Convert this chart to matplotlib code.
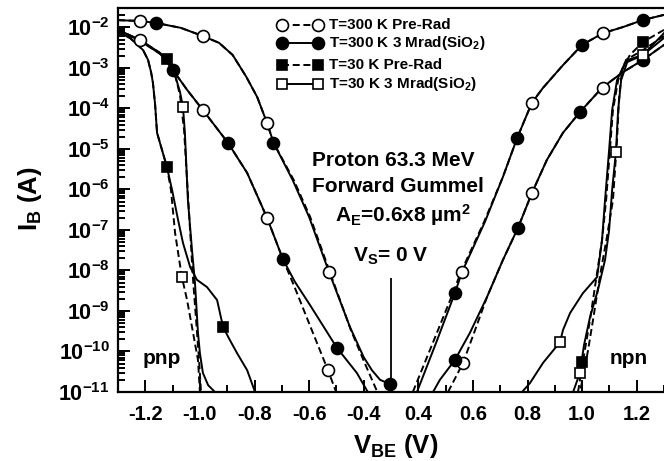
import numpy as np
import matplotlib
matplotlib.use('Agg')
import matplotlib.pyplot as plt
from matplotlib.lines import Line2D
from matplotlib.ticker import FixedLocator, LogLocator, NullFormatter

plt.rcParams['font.family'] = 'Liberation Sans'
plt.rcParams['font.weight'] = 'bold'
plt.rcParams['mathtext.fontset'] = 'custom'
plt.rcParams['mathtext.rm'] = 'Liberation Sans:bold'
plt.rcParams['mathtext.bf'] = 'Liberation Sans:bold'
plt.rcParams['mathtext.it'] = 'Liberation Sans:bold'
plt.rcParams['mathtext.default'] = 'bf'

# pnp (negative V_BE) and npn (positive V_BE) share one axis,
# the npn half is pulled left by 0.6 V so 0.3 V sits on top of -0.3 V
NPN_SHIFT = 0.6

# ---- T=300 K, upper branch (values are log10 of current in A) ----
pnp300_up_rad_v = [-1.30, -1.22, -1.16, -1.07, -0.99, -0.93, -0.88, -0.83, -0.79, -0.754,
                   -0.73, -0.66, -0.60, -0.527, -0.45, -0.40, -0.37, -0.34, -0.305]
pnp300_up_rad_i = [-1.82, -1.84, -1.89, -2.01, -2.21, -2.38, -2.68, -3.22, -3.72, -4.36,
                   -4.85, -5.77, -6.68, -8.04, -9.40, -10.14, -10.46, -10.70, -10.80]
pnp300_up_pre_v = [-1.30, -1.22, -1.16, -1.07, -0.99, -0.93, -0.88, -0.83, -0.79, -0.754,
                   -0.73, -0.656, -0.596, -0.524, -0.447, -0.398, -0.35]
pnp300_up_pre_i = [-1.82, -1.84, -1.89, -2.01, -2.21, -2.38, -2.68, -3.22, -3.72, -4.36,
                   -4.85, -5.77, -6.68, -8.04, -9.47, -10.26, -11.0]

npn300_up_rad_v = [0.395, 0.465, 0.534, 0.560, 0.644, 0.710, 0.762, 0.816, 0.857, 0.930,
                   1.000, 1.077, 1.150, 1.223, 1.300]
npn300_up_rad_i = [-11.0, -9.79, -8.56, -8.04, -6.80, -5.69, -4.73, -3.86, -3.49, -2.93,
                   -2.43, -2.14, -1.99, -1.815, -1.69]
npn300_up_pre_v = [0.380, 0.453, 0.527, 0.556, 0.641, 0.710, 0.762, 0.816, 0.857, 0.930,
                   1.000, 1.077, 1.150, 1.223, 1.300]
npn300_up_pre_i = [-11.0, -9.79, -8.56, -8.04, -6.80, -5.69, -4.73, -3.86, -3.49, -2.93,
                   -2.43, -2.14, -1.99, -1.815, -1.69]

# ---- T=300 K, lower branch ----
pnp300_lo_rad_v = [-1.30, -1.219, -1.146, -1.099, -1.047, -0.989, -0.897, -0.827, -0.754,
                   -0.696, -0.652, -0.597, -0.498, -0.425, -0.385]
pnp300_lo_rad_i = [-2.06, -2.31, -2.63, -3.05, -3.54, -4.04, -4.85, -5.59, -6.70,
                   -7.72, -8.28, -8.85, -9.91, -10.53, -11.0]
pnp300_lo_pre_v = [-1.30, -1.219, -1.146, -1.099, -1.047, -0.989, -0.897, -0.827, -0.754,
                   -0.696, -0.652, -0.586, -0.531, -0.501]
pnp300_lo_pre_i = [-2.06, -2.31, -2.63, -3.05, -3.54, -4.04, -4.85, -5.59, -6.70,
                   -7.72, -8.43, -9.54, -10.46, -11.0]

npn300_lo_rad_v = [0.454, 0.479, 0.534, 0.589, 0.652, 0.710, 0.765, 0.816, 0.871, 0.930,
                   0.992, 1.073, 1.146, 1.223, 1.300]
npn300_lo_rad_i = [-11.0, -10.70, -10.21, -9.54, -8.65, -7.74, -6.95, -6.09, -5.27, -4.60,
                   -4.09, -3.49, -3.12, -2.80, -2.43]
npn300_lo_pre_v = [0.509, 0.564, 0.608, 0.652, 0.710, 0.765, 0.816, 0.871, 0.930,
                   0.992, 1.073, 1.146, 1.223, 1.300]
npn300_lo_pre_i = [-11.0, -10.28, -9.47, -8.65, -7.74, -6.95, -6.09, -5.27, -4.60,
                   -4.09, -3.49, -3.12, -2.80, -2.43]

# ---- T=30 K ----
pnp30_a_rad_v = [-1.300, -1.256, -1.208, -1.190, -1.179, -1.172, -1.164, -1.157, -1.139,
                 -1.121, -1.102, -1.080, -1.062, -1.036, -1.011, -0.974, -0.937, -0.915,
                 -0.890, -0.864, -0.827, -0.798]
pnp30_a_rad_i = [-2.11, -2.26, -2.56, -2.80, -3.10, -3.37, -3.91, -4.60, -5.02,
                 -5.44, -6.01, -6.75, -7.32, -7.91, -8.23, -8.41, -8.73, -9.40,
                 -9.72, -10.04, -10.46, -11.0]
pnp30_a_pre_v = [-1.300, -1.256, -1.208, -1.190, -1.179, -1.172, -1.164, -1.157, -1.139,
                 -1.121, -1.106, -1.091, -1.073, -1.066, -1.047, -1.025, -1.007, -1.000]
pnp30_a_pre_i = [-2.11, -2.26, -2.56, -2.80, -3.10, -3.37, -3.91, -4.60, -5.02,
                 -5.44, -6.01, -7.07, -7.86, -8.16, -8.73, -9.54, -10.21, -11.0]
pnp30_b_rad_v = [-1.300, -1.219, -1.146, -1.110, -1.088, -1.073, -1.062, -1.055, -1.044,
                 -1.029, -1.018, -1.007, -1.000, -0.989, -0.970, -0.945]
pnp30_b_rad_i = [-2.06, -2.33, -2.65, -2.93, -3.25, -3.59, -3.96, -4.60, -6.26,
                 -7.49, -8.31, -9.54, -10.04, -10.53, -10.83, -11.0]
pnp30_b_pre_v = [-1.300, -1.219, -1.146, -1.117, -1.091, -1.073, -1.058, -1.047, -1.036,
                 -1.025, -1.014, -1.003, -0.996]
pnp30_b_pre_i = [-2.06, -2.33, -2.65, -2.80, -3.17, -3.67, -4.53, -5.77, -7.00,
                 -8.23, -9.22, -10.21, -11.0]

npn30_a_rad_v = [1.300, 1.223, 1.157, 1.128, 1.110, 1.099, 1.084, 1.073, 1.055, 1.003,
                 0.956, 0.930, 0.919, 0.857, 0.809, 0.780]
npn30_a_rad_i = [-2.26, -2.68, -2.88, -3.30, -4.04, -5.02, -6.26, -7.25, -8.16, -8.56,
                 -9.05, -9.47, -9.77, -10.28, -10.78, -11.0]
npn30_a_pre_v = [1.300, 1.223, 1.161, 1.132, 1.113, 1.102, 1.088, 1.073, 1.051, 1.029,
                 1.007, 0.985]
npn30_a_pre_i = [-2.21, -2.56, -2.80, -3.30, -4.04, -5.02, -6.26, -7.25, -8.23, -9.22,
                 -10.09, -11.0]
npn30_b_rad_v = [1.300, 1.223, 1.168, 1.143, 1.132, 1.128, 1.124, 1.110, 1.099, 1.084,
                 1.058, 1.029, 1.007, 0.992, 0.967]
npn30_b_rad_i = [-2.14, -2.68, -2.80, -3.30, -4.04, -4.53, -5.07, -6.01, -7.00, -7.74,
                 -8.48, -9.15, -9.84, -10.53, -11.0]
npn30_b_pre_v = [1.300, 1.223, 1.175, 1.146, 1.135, 1.128, 1.113, 1.091, 1.066, 1.040,
                 1.022, 1.007, 0.992]
npn30_b_pre_i = [-2.06, -2.36, -2.68, -3.05, -3.79, -4.78, -6.26, -7.17, -8.11, -9.22,
                 -9.96, -10.51, -11.0]

# symbols sitting on the curves
pre300_mark_v = [-1.219, -0.989, -0.754, -0.527, -1.219, -0.989, -0.754, -0.531,
                 0.560, 0.816, 1.077, 0.564, 0.816, 1.077]
pre300_mark_i = [-1.84, -2.21, -4.36, -8.04, -2.31, -4.04, -6.70, -10.46,
                 -8.04, -3.86, -2.14, -10.28, -6.09, -3.49]
rad300_mark_v = [-1.161, -0.732, -0.305, -1.099, -0.897, -0.696, -0.498,
                 0.534, 0.762, 1.000, 1.223, 0.534, 0.765, 0.992, 1.223]
rad300_mark_i = [-1.89, -4.85, -10.80, -3.05, -4.85, -7.72, -9.91,
                 -8.56, -4.73, -2.43, -1.815, -10.21, -6.95, -4.09, -2.80]
pre30_mark_v = [-1.121, -1.121, -0.915, 1.223, 1.000]
pre30_mark_i = [-2.78, -5.44, -9.40, -2.36, -10.26]
rad30_mark_v = [-1.062, -1.066, 1.223, 1.124, 0.919, 0.992]
rad30_mark_i = [-3.96, -8.16, -2.68, -5.07, -9.77, -10.53]

vs_v = -0.30
vs_top_i = -8.19
vs_bottom_i = -10.80

tick_v = [-1.2, -1.0, -0.8, -0.6, -0.4, 0.4, 0.6, 0.8, 1.0, 1.2]
tick_labels = ['-1.2', '-1.0', '-0.8', '-0.6', '-0.4', '0.4', '0.6', '0.8', '1.0', '1.2']
decades = list(range(-11, -1))

LW = 1.4
DASH = (0, (3.6, 1.9))


def on_axis(v):
    v = np.asarray(v, dtype=float)
    return np.where(v > 0, v - NPN_SHIFT, v)


def amps(logi):
    return 10.0 ** np.asarray(logi, dtype=float)


fig = plt.figure(figsize=(6.64, 4.61), dpi=100)
ax = fig.add_axes([118 / 664, 69 / 461, 546 / 664, 384 / 461])

curves = [
    (pnp300_up_pre_v, pnp300_up_pre_i, DASH), (pnp300_up_rad_v, pnp300_up_rad_i, '-'),
    (npn300_up_pre_v, npn300_up_pre_i, DASH), (npn300_up_rad_v, npn300_up_rad_i, '-'),
    (pnp300_lo_pre_v, pnp300_lo_pre_i, DASH), (pnp300_lo_rad_v, pnp300_lo_rad_i, '-'),
    (npn300_lo_pre_v, npn300_lo_pre_i, DASH), (npn300_lo_rad_v, npn300_lo_rad_i, '-'),
    (pnp30_a_pre_v, pnp30_a_pre_i, DASH), (pnp30_a_rad_v, pnp30_a_rad_i, '-'),
    (pnp30_b_pre_v, pnp30_b_pre_i, DASH), (pnp30_b_rad_v, pnp30_b_rad_i, '-'),
    (npn30_a_pre_v, npn30_a_pre_i, DASH), (npn30_a_rad_v, npn30_a_rad_i, '-'),
    (npn30_b_pre_v, npn30_b_pre_i, DASH), (npn30_b_rad_v, npn30_b_rad_i, '-'),
]
for v, logi, ls in curves:
    ax.plot(on_axis(v), amps(logi), color='black', lw=LW, ls=ls, zorder=2)

marks = [
    (pre300_mark_v, pre300_mark_i, 'o', 'white', 8.6),
    (rad300_mark_v, rad300_mark_i, 'o', 'black', 8.6),
    (pre30_mark_v, pre30_mark_i, 's', 'black', 7.6),
    (rad30_mark_v, rad30_mark_i, 's', 'white', 7.6),
]
for v, logi, m, face, size in marks:
    ax.plot(on_axis(v), amps(logi), ls='none', marker=m, ms=size, mfc=face,
            mec='black', mew=1.2, zorder=3)

# V_S marker line
ax.vlines(on_axis([vs_v])[0], 10.0 ** vs_bottom_i, 10.0 ** vs_top_i, color='black', lw=1.3, zorder=2)

ax.set_yscale('log')
ax.set_xlim(-1.3, 0.7)
ax.set_ylim(1e-11, 10.0 ** -1.52)

ax.xaxis.set_major_locator(FixedLocator(on_axis(tick_v)))
ax.set_xticklabels(tick_labels)
ax.xaxis.set_minor_locator(FixedLocator(np.arange(-1.3, 0.71, 0.1)))
ax.set_yticks([10.0 ** d for d in decades])
ax.set_yticklabels([r'$10^{%d}$' % d for d in decades])
ax.yaxis.set_minor_locator(LogLocator(base=10, subs=np.arange(2, 10), numticks=100))
ax.yaxis.set_minor_formatter(NullFormatter())

ax.tick_params(which='both', direction='in', width=1.4, top=False, right=False)
ax.tick_params(which='major', length=8.5)
ax.tick_params(which='minor', length=5)
ax.tick_params(axis='x', labelsize=14.5, pad=9)
ax.tick_params(axis='y', labelsize=15.5, pad=6)
for side in ['left', 'bottom', 'top']:
    ax.spines[side].set_linewidth(1.6)
ax.spines['right'].set_visible(False)

# legend drawn by hand so the two pairs of rows can be spaced apart
legend_rows = [
    ('o', 'white', DASH, 0.956, 'T=300 K Pre-Rad'),
    ('o', 'black', '-', 0.909, r'T=300 K 3 Mrad(SiO$_2$)'),
    ('s', 'black', DASH, 0.852, 'T=30 K Pre-Rad'),
    ('s', 'white', '-', 0.802, r'T=30 K 3 Mrad(SiO$_2$)'),
]
for m, face, ls, y, label in legend_rows:
    size = 8.6 if m == 'o' else 7.6
    ax.add_line(Line2D([0.300, 0.366], [y, y], transform=ax.transAxes, color='black',
                       lw=LW, ls=ls, marker=m, ms=size, mfc=face, mec='black', mew=1.2,
                       clip_on=False))
    ax.text(0.387, y, label, transform=ax.transAxes, fontsize=11, va='center', ha='left')

ax.text(0.505, 0.589, 'Proton 63.3 MeV', transform=ax.transAxes, fontsize=15,
        ha='center', va='baseline')
ax.text(0.513, 0.521, 'Forward Gummel', transform=ax.transAxes, fontsize=15,
        ha='center', va='baseline')
ax.text(0.522, 0.443, r'A$_E$=0.6x8 µm$^2$', transform=ax.transAxes, fontsize=15,
        ha='center', va='baseline')
ax.text(0.500, 0.339, r'V$_S$= 0 V', transform=ax.transAxes, fontsize=15,
        ha='center', va='baseline')
ax.text(0.081, 0.086, 'pnp', transform=ax.transAxes, fontsize=15, ha='center', va='center')
ax.text(0.936, 0.086, 'npn', transform=ax.transAxes, fontsize=15, ha='center', va='center')

fig.text(396 / 664, 8 / 461, r'V$_{BE}$ (V)', fontsize=18.5, ha='center', va='baseline')
fig.text(30 / 664, 0.57, r'I$_B$ (A)', fontsize=18.5, ha='center', va='center', rotation=90)

fig.savefig('out.png', dpi=100)
